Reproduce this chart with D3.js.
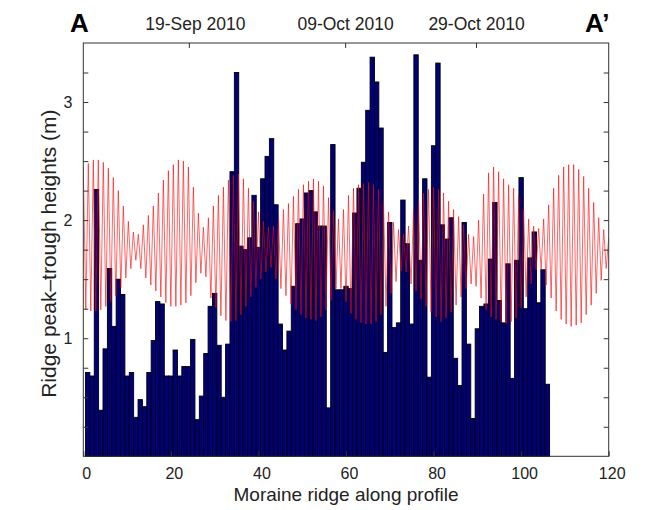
<!DOCTYPE html>
<html>
<head>
<meta charset="utf-8">
<script src="https://cdn.jsdelivr.net/npm/d3@7"></script>
<style>
    body { margin: 0; background: #fff; }
    text { font-family: "Liberation Sans", Arial, sans-serif; fill: #222; }
</style>
</head>
<body>
<div id="chart"></div>
<script>
// Ridge peak-trough heights (m), one bar per moraine ridge, ridge 1..106.
const ridgeHeights = [
    0.71, 0.68, 2.26, 0.39, 0.91, 1.59, 1.10, 1.50, 1.37, 0.68,
    0.71, 0.33, 0.48, 0.42, 0.71, 0.98, 1.31, 1.29, 0.68, 0.68,
    0.90, 0.68, 0.76, 0.76, 0.99, 0.31, 0.51, 0.87, 1.27, 1.38,
    0.94, 0.50, 0.95, 2.41, 3.25, 1.78, 1.75, 1.85, 2.21, 1.77,
    2.35, 2.54, 2.69, 2.13, 1.12, 0.90, 1.06, 1.44, 1.97, 2.01,
    2.23, 2.25, 2.07, 1.95, 1.95, 0.41, 2.64, 1.41, 1.41, 1.44,
    1.42, 2.06, 2.27, 2.49, 2.93, 3.38, 3.17, 2.78, 0.88, 1.98,
    1.09, 1.13, 2.17, 1.80, 1.12, 3.40, 1.66, 2.35, 0.67, 2.63,
    3.33, 1.96, 1.84, 2.02, 0.83, 0.60, 1.98, 0.95, 0.32, 1.08,
    1.27, 1.29, 1.67, 2.15, 1.32, 1.13, 1.63, 0.66, 1.66, 2.36,
    1.25, 1.68, 1.90, 1.30, 1.58, 0.61
];

// Tide level (m): high waters and low waters, alternating, spread evenly over tideExtent.
const tidePeaks = [
    2.45, 2.48, 2.51, 2.51, 2.49, 2.44, 2.36, 2.25, 2.12, 1.99,
    1.90, 1.88, 1.96, 2.04, 2.12, 2.23, 2.34, 2.42, 2.47, 2.51,
    2.50, 2.45, 2.28, 2.06, 1.94, 2.02, 2.12, 2.21, 2.28, 2.34,
    2.38, 2.39, 2.35, 2.27, 2.16, 2.07, 1.99, 1.94, 1.95, 2.02,
    2.09, 2.14, 2.20, 2.26, 2.30, 2.33, 2.35, 2.33, 2.29, 2.19,
    2.08, 2.01, 2.09, 2.21, 2.27, 2.30, 2.31, 2.32, 2.30, 2.26,
    2.15, 2.07, 1.98, 1.92, 1.88, 1.95, 2.08, 2.16, 2.23, 2.26,
    2.28, 2.26, 2.23, 2.16, 2.09, 2.03, 1.96, 1.88, 1.86, 2.00,
    2.22, 2.40, 2.45, 2.41, 2.35, 2.30, 2.27, 2.21, 2.09, 2.01,
    1.95, 1.93, 2.01, 2.13, 2.27, 2.38, 2.45, 2.47, 2.47, 2.43,
    2.37, 2.27, 2.15, 2.02, 1.92, 1.85
];
const tideTroughs = [
    1.24, 1.23, 1.23, 1.24, 1.27, 1.31, 1.36, 1.43, 1.51, 1.59,
    1.66, 1.59, 1.51, 1.45, 1.40, 1.35, 1.30, 1.27, 1.27, 1.28,
    1.30, 1.36, 1.47, 1.55, 1.52, 1.34, 1.26, 1.19, 1.15, 1.14,
    1.15, 1.20, 1.27, 1.35, 1.43, 1.50, 1.56, 1.60, 1.50, 1.42,
    1.36, 1.29, 1.24, 1.20, 1.17, 1.16, 1.15, 1.18, 1.24, 1.32,
    1.42, 1.42, 1.31, 1.21, 1.16, 1.13, 1.12, 1.12, 1.14, 1.20,
    1.27, 1.38, 1.48, 1.57, 1.56, 1.46, 1.40, 1.33, 1.27, 1.22,
    1.18, 1.14, 1.17, 1.22, 1.28, 1.35, 1.42, 1.46, 1.44, 1.34,
    1.24, 1.18, 1.16, 1.14, 1.12, 1.14, 1.17, 1.26, 1.35, 1.46,
    1.58, 1.58, 1.45, 1.34, 1.23, 1.16, 1.12, 1.10, 1.11, 1.13,
    1.20, 1.28, 1.38, 1.49, 1.59
];
const tideExtent = [0, 120];

const xTicks = [0, 20, 40, 60, 80, 100, 120];
const yTicks = [0.25, 0.5, 0.75, 1, 1.25, 1.5, 1.75, 2, 2.25, 2.5, 2.75, 3, 3.25];
const yTickLabels = [1, 2, 3];
const dateTicks = [24.1, 59.8, 89.7];
const dateLabels = ['19-Sep 2010', '09-Oct 2010', '29-Oct 2010'];

const dims = {
    width: 645,
    height: 510,
    top: 43,
    left: 83.3,
    plotWidth: 525.4,
    plotHeight: 413.3,
};

const svg = d3.select('#chart')
    .append('svg')
    .attr('width', dims.width)
    .attr('height', dims.height);

const g = svg.append('g')
    .attr('transform', `translate(${dims.left}, ${dims.top})`);

const x = d3.scaleLinear()
    .domain([0, 120])
    .range([0, dims.plotWidth]);

const y = d3.scaleLinear()
    .domain([0, 3.5])
    .range([dims.plotHeight, 0]);

g.append('clipPath')
    .attr('id', 'plot-clip')
    .append('rect')
    .attr('width', dims.plotWidth)
    .attr('height', dims.plotHeight);

// bars
g.append('g')
    .selectAll('rect')
    .data(ridgeHeights)
    .join('rect')
        .attr('x', (d, i) => x(i + 0.5))
        .attr('width', x(1) - x(0))
        .attr('y', (d) => y(d))
        .attr('height', (d) => y(0) - y(d))
        .attr('fill', '#00007a')
        .attr('stroke', '#000')
        .attr('stroke-width', 0.9);

// tide line: interleave high and low waters
let tide = [];
for (let i = 0; i < tidePeaks.length; i++) {
    tide.push(tidePeaks[i]);
    if (i < tideTroughs.length) {
        tide.push(tideTroughs[i]);
    }
}
const tideStep = (tideExtent[1] - tideExtent[0]) / (tide.length - 1);

g.append('path')
    .datum(tide)
    .attr('clip-path', 'url(#plot-clip)')
    .attr('fill', 'none')
    .attr('stroke', '#ff0000')
    .attr('stroke-opacity', 0.6)
    .attr('stroke-width', 1)
    .attr('d', d3.line()
        .x((d, i) => x(tideExtent[0] + i * tideStep))
        .y((d) => y(d)));

// axes: ticks point inwards like the matlab box
const tickLen = 5;
g.append('g')
    .attr('transform', `translate(0, ${dims.plotHeight})`)
    .call(d3.axisBottom(x).tickValues(xTicks).tickSize(-tickLen).tickPadding(tickLen + 6))
    .call((a) => a.select('.domain').remove())
    .call((a) => a.selectAll('text').attr('font-size', 16).attr('fill', '#222').attr('dx', 3));

g.append('g')
    .call(d3.axisLeft(y).tickValues(yTicks).tickSize(-tickLen)
        .tickFormat((d) => yTickLabels.includes(d) ? d : '').tickPadding(tickLen + 6))
    .call((a) => a.select('.domain').remove())
    .call((a) => a.selectAll('text').attr('font-size', 16).attr('fill', '#222'));

g.append('g')
    .attr('transform', `translate(${dims.plotWidth}, 0)`)
    .call(d3.axisRight(y).tickValues(yTicks).tickSize(-tickLen).tickFormat(''))
    .call((a) => a.select('.domain').remove());

g.append('g')
    .call(d3.axisTop(x).tickValues(dateTicks).tickSize(-tickLen)
        .tickFormat((d, i) => dateLabels[i]).tickPadding(tickLen + 8))
    .call((a) => a.select('.domain').remove())
    .call((a) => a.selectAll('text').attr('font-size', 17.5).attr('fill', '#222'))
    .call((a) => a.select('.tick text').attr('dx', 6));

g.selectAll('.tick line').attr('stroke', '#333');

g.append('rect')
    .attr('width', dims.plotWidth)
    .attr('height', dims.plotHeight)
    .attr('fill', 'none')
    .attr('stroke', '#333')
    .attr('stroke-width', 1);

// labels
svg.append('text')
    .attr('x', dims.left + dims.plotWidth / 2)
    .attr('y', 501)
    .attr('text-anchor', 'middle')
    .attr('font-size', 19)
    .text('Moraine ridge along profile');

svg.append('text')
    .attr('transform', `translate(56, ${dims.top + dims.plotHeight / 2 + 4}) rotate(-90)`)
    .attr('text-anchor', 'middle')
    .attr('font-size', 21)
    .text('Ridge peak\u2013trough heights (m)');

svg.append('text')
    .attr('x', 70)
    .attr('y', 32)
    .attr('font-size', 26)
    .attr('font-weight', 'bold')
    .style('fill', '#000')
    .text('A');

svg.append('text')
    .attr('x', 585)
    .attr('y', 32)
    .attr('font-size', 26)
    .attr('font-weight', 'bold')
    .style('fill', '#000')
    .text('A\u2019');
</script>
</body>
</html>
